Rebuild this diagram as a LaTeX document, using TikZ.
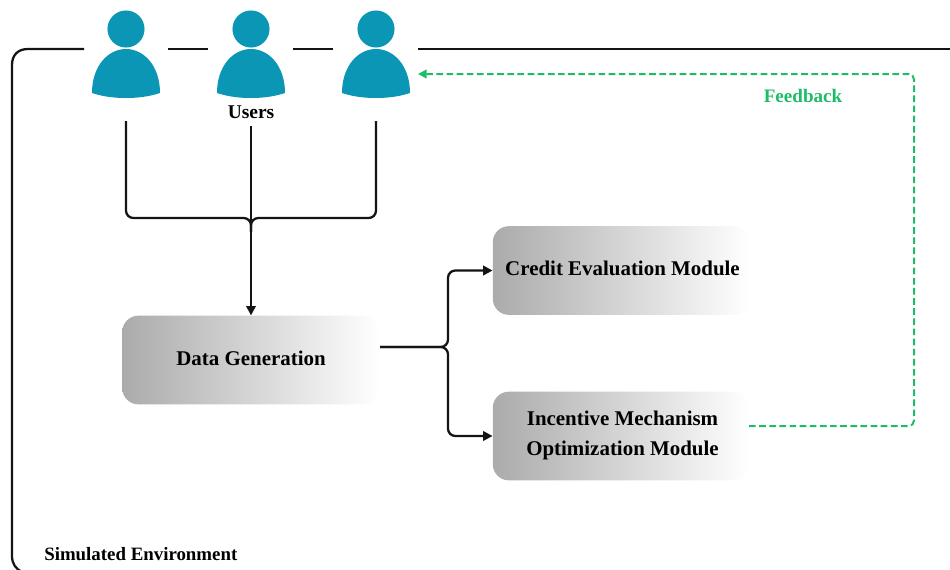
\documentclass[tikz,border=0pt]{standalone}
\usepackage{fontspec}
\setmainfont{Liberation Serif}
\usetikzlibrary{arrows.meta}
\definecolor{teal1}{HTML}{0A96B4}
\definecolor{fbgreen}{HTML}{1DBD68}
\tikzset{
  wire/.style={line width=1.7pt,draw=black!92,rounded corners=5.5pt},
  arrowed/.style={-{Triangle[length=7pt,width=7pt]}},
  fback/.style={line width=1.5pt,draw=fbgreen,dash pattern=on 5pt off 2.6pt,rounded corners=4pt,-{Triangle[length=6.5pt,width=6.5pt]}},
  modulebox/.style={rounded corners=12pt,left color=black!33,right color=white,draw=none,
    minimum width=193pt,minimum height=66.5pt,inner sep=0pt,align=center,font=\fontsize{15.7pt}{22.5pt}\selectfont\bfseries},
  lab/.style={inner sep=0pt,font=\fontsize{14.3pt}{17pt}\selectfont\bfseries},
  person/.pic={
    \fill[teal1] (0,-25) circle[radius=13.9pt];
    \fill[teal1] (-34,39) .. controls (-34,12) and (-18,-5) .. (0,-5)
      .. controls (18,-5) and (34,12) .. (34,39)
      .. controls (22,43) and (10,44) .. (0,44)
      .. controls (-10,44) and (-22,43) .. (-34,39) -- cycle;
  }
}
\begin{document}
\begin{tikzpicture}[x=0.75pt,y=-0.75pt]
\useasboundingbox (0,0) rectangle (950,569);
% users
\pic at (126,54) {person};
\pic at (251,54) {person};
\pic at (376,54) {person};
\node[lab,font=\fontsize{14.6pt}{17pt}\selectfont\bfseries] (users) at (251,112) {Users};
% named points
\coordinate (u1out) at (126,121);
\coordinate (u2out) at (251,126);
\coordinate (u3out) at (376,121);
\coordinate (merge) at (251,218);
\coordinate (split) at (448,347);
% modules
\node[modulebox] (data) at (251,360) {\raisebox{2.2pt}{Data Generation}};
\node[modulebox] (cred) at (621.5,270.5) {\kern1.5pt\raisebox{3pt}{Credit Evaluation Module}};
\node[modulebox] (inc) at (621.5,436) {\kern1.5pt\raisebox{1.5pt}[\height][\depth]{\begin{tabular}{@{}c@{}}Incentive Mechanism\\Optimization Module\end{tabular}}};
\coordinate (dataout) at (380,347);
\coordinate (incout) at (749,426);
\coordinate (fbturnA) at (914,426);
\coordinate (fbturnB) at (914,74);
\coordinate (fbend) at (418,74);
% frame
\draw[wire,rounded corners=0pt] (84,49) -- (28,49) .. controls (18,49) and (12,55) .. (12,65) -- (12,556) .. controls (12,564) and (16,569) .. (22,572);
\draw[wire] (168,49) -- (208,49);
\draw[wire] (293,49) -- (333,49);
\draw[wire] (418,49) -- (950,49);
% user connectors
\draw[wire] (u1out) |- (merge) -- ++(0,14);
\draw[wire] (u3out) |- (merge) -- ++(0,14);
\draw[wire,arrowed] (u2out) -- (data.north);
% data connectors
\draw[wire,arrowed] (dataout) -- (split) |- (cred.west);
\draw[wire,arrowed] (dataout) -- (split) |- (inc.west);
% feedback
\draw[fback] (incout) -- (fbturnA) -- (fbturnB) -- (fbend);
\node[lab,text=fbgreen] (fb) at (803,96) {Feedback};
\node[lab,anchor=west,font=\fontsize{14.15pt}{17pt}\selectfont\bfseries] (env) at (44,554) {Simulated Environment};
\end{tikzpicture}
\end{document}
